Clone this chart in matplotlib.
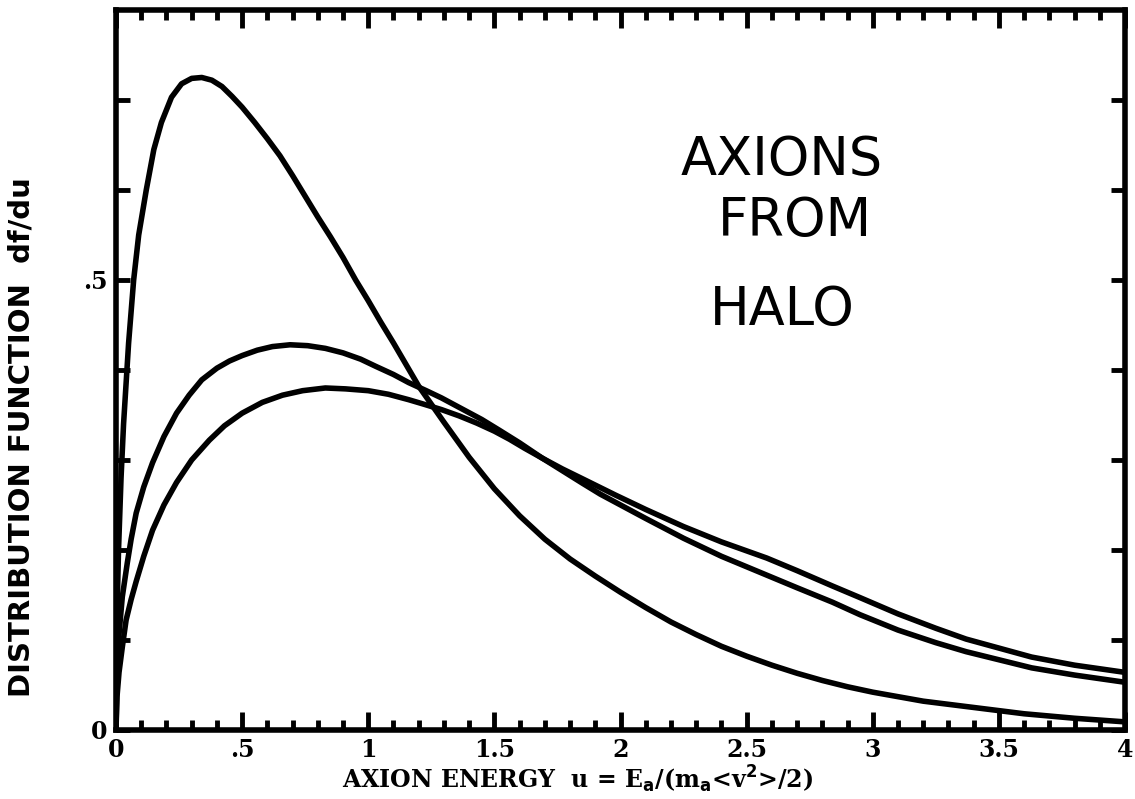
import numpy as np
import matplotlib
matplotlib.use("Agg")
import matplotlib.pyplot as plt
from matplotlib.font_manager import FontProperties

# curves (u, df/du)
u_a = [0, 0.005, 0.01, 0.02, 0.03, 0.05, 0.07, 0.09, 0.12, 0.15, 0.18, 0.22, 0.26,
       0.30, 0.34, 0.38, 0.42, 0.46, 0.50, 0.55, 0.60, 0.65, 0.70, 0.75, 0.80, 0.85,
       0.90, 0.95, 1.00, 1.05, 1.10, 1.20, 1.30, 1.40, 1.50, 1.60, 1.70, 1.80, 1.90,
       2.00, 2.10, 2.20, 2.30, 2.40, 2.50, 2.60, 2.70, 2.80, 2.90, 3.00, 3.20, 3.40,
       3.60, 3.80, 4.00]
f_a = [0, 0.14, 0.20, 0.28, 0.34, 0.43, 0.50, 0.55, 0.60, 0.645, 0.675, 0.703, 0.718,
       0.724, 0.725, 0.722, 0.715, 0.704, 0.692, 0.675, 0.657, 0.638, 0.616, 0.593,
       0.570, 0.548, 0.525, 0.500, 0.477, 0.453, 0.430, 0.382, 0.342, 0.303, 0.268,
       0.238, 0.212, 0.190, 0.171, 0.153, 0.136, 0.120, 0.106, 0.093, 0.082, 0.072,
       0.063, 0.055, 0.048, 0.042, 0.032, 0.025, 0.018, 0.013, 0.009]

u_b = [0, 0.005, 0.01, 0.025, 0.045, 0.06, 0.08, 0.11, 0.145, 0.19, 0.24, 0.29, 0.34,
       0.40, 0.45, 0.50, 0.56, 0.62, 0.69, 0.76, 0.83, 0.90, 0.97, 1.03, 1.10, 1.16,
       1.23, 1.29, 1.37, 1.45, 1.52, 1.60, 1.69, 1.77, 1.85, 1.92, 1.98, 2.10, 2.25,
       2.40, 2.58, 2.70, 2.84, 2.95, 3.10, 3.25, 3.37, 3.50, 3.63, 3.80, 4.00]
f_b = [0, 0.075, 0.10, 0.148, 0.186, 0.212, 0.241, 0.270, 0.297, 0.326, 0.352, 0.372,
       0.389, 0.402, 0.410, 0.416, 0.422, 0.426, 0.428, 0.427, 0.424, 0.419, 0.412,
       0.404, 0.395, 0.386, 0.377, 0.369, 0.357, 0.345, 0.333, 0.319, 0.302, 0.288,
       0.274, 0.262, 0.253, 0.235, 0.213, 0.193, 0.172, 0.158, 0.142, 0.128, 0.111,
       0.097, 0.087, 0.078, 0.069, 0.061, 0.053]

u_c = [0, 0.004, 0.012, 0.025, 0.04, 0.06, 0.08, 0.11, 0.145, 0.19, 0.24, 0.30, 0.37,
       0.43, 0.50, 0.58, 0.66, 0.74, 0.83, 0.91, 1.00, 1.08, 1.16, 1.22, 1.29, 1.36,
       1.43, 1.50, 1.56, 1.62, 1.69, 1.77, 1.85, 1.98, 2.10, 2.25, 2.40, 2.58, 2.70,
       2.84, 2.95, 3.10, 3.25, 3.37, 3.50, 3.63, 3.80, 4.00]
f_c = [0, 0.037, 0.064, 0.092, 0.122, 0.145, 0.165, 0.193, 0.222, 0.250, 0.275, 0.300,
       0.322, 0.338, 0.352, 0.364, 0.372, 0.377, 0.380, 0.379, 0.377, 0.373, 0.367,
       0.362, 0.356, 0.349, 0.341, 0.332, 0.323, 0.313, 0.302, 0.290, 0.279, 0.261,
       0.245, 0.226, 0.209, 0.191, 0.177, 0.160, 0.147, 0.129, 0.113, 0.101, 0.091,
       0.081, 0.072, 0.064]

x_major = [0, 0.5, 1, 1.5, 2, 2.5, 3, 3.5, 4]
x_labels = ["0", ".5", "1", "1.5", "2", "2.5", "3", "3.5", "4"]
y_ticks = [0, 0.1, 0.2, 0.3, 0.4, 0.5, 0.6, 0.7]
y_labels = ["0", "", "", "", "", ".5", "", ""]

fig = plt.figure(figsize=(11.35, 7.99), dpi=100)
ax = fig.add_axes([0.1022, 0.0864, 0.889, 0.9011])

for u, f in [(u_a, f_a), (u_b, f_b), (u_c, f_c)]:
    ax.plot(u, f, color="black", lw=4, solid_joinstyle="round", solid_capstyle="round")

ax.set_xlim(0, 4)
ax.set_ylim(0, 0.8)
for s in ax.spines.values():
    s.set_linewidth(4)

ax.set_xticks(x_major)
ax.set_xticklabels(x_labels)
ax.set_xticks(np.arange(0, 4.01, 0.1), minor=True)
ax.set_yticks(y_ticks)
ax.set_yticklabels(y_labels)

tick_font = FontProperties(family="DejaVu Serif", weight="bold", size=17)
for t in ax.get_xticklabels() + ax.get_yticklabels():
    t.set_fontproperties(tick_font)

ax.tick_params(which="major", direction="in", top=True, right=True, length=13, width=3.5, pad=6)
ax.tick_params(axis="y", which="major", length=10)
ax.tick_params(which="minor", direction="in", top=True, right=True, length=7, width=3.5)

fig.text(0.509, 0.025, r"AXION ENERGY  u = E$_\mathbf{a}$/(m$_\mathbf{a}$<v$^\mathbf{2}$>/2)",
         ha="center", va="center", fontsize=17, fontweight="bold", family="DejaVu Serif")
fig.text(0.019, 0.453, "DISTRIBUTION FUNCTION  df/du", rotation=90, ha="center", va="center",
         fontsize=21, fontweight="bold", family="DejaVu Sans")

hand = dict(ha="center", va="center", fontsize=38, family="DejaVu Sans")
ax.text(2.64, 0.633, "AXIONS", **hand)
ax.text(2.69, 0.565, "FROM", **hand)
ax.text(2.64, 0.467, "HALO", **hand)

fig.savefig("out.png", dpi=100)
